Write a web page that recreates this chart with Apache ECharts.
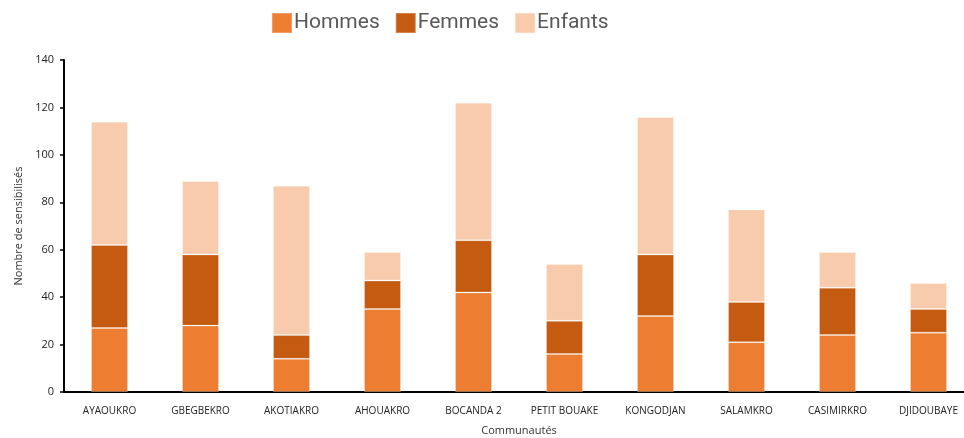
<!DOCTYPE html>
<html>
<head>
<meta charset="utf-8">
<script src="https://cdn.jsdelivr.net/npm/echarts@6/dist/echarts.min.js"></script>
<style>
  html, body { margin: 0; padding: 0; background: #fff; }
  #chart { width: 964px; height: 438px; }
</style>
</head>
<body>
<div id="chart"></div>
<script>
const communautes = ['AYAOUKRO', 'GBEGBEKRO', 'AKOTIAKRO', 'AHOUAKRO', 'BOCANDA 2', 'PETIT BOUAKE', 'KONGODJAN', 'SALAMKRO', 'CASIMIRKRO', 'DJIDOUBAYE'];
const hommes  = [27, 28, 14, 35, 42, 16, 32, 21, 24, 25];
const femmes  = [35, 30, 10, 12, 22, 14, 26, 17, 20, 10];
const enfants = [52, 31, 63, 12, 58, 24, 58, 39, 15, 11];
const yTicks = [0, 20, 40, 60, 80, 100, 120, 140];

const chart = echarts.init(document.getElementById('chart'), null, { renderer: 'canvas' });

// fine liseré clair autour des segments, comme dans Excel
const barStyle = (color) => ({
  color: color,
  borderColor: 'rgba(255,255,255,0.25)',
  borderWidth: 1
});

const option = {
  backgroundColor: '#fff',
  animation: false,
  legend: {
    top: 7,
    left: 266,
    itemWidth: 20,
    itemHeight: 20,
    itemGap: 15,
    icon: 'rect',
    textStyle: { fontFamily: 'Roboto', fontSize: 21, color: '#595959', padding: [0, 0, 0, -3] },
    data: ['Hommes', 'Femmes', 'Enfants']
  },
  grid: { left: 64, top: 60, width: 910, bottom: 46, containLabel: false, outerBoundsMode: 'none' },
  xAxis: {
    type: 'category',
    data: communautes,
    name: 'Communautés',
    nameLocation: 'middle',
    nameGap: 33,
    nameTextStyle: { fontFamily: 'Open Sans', fontSize: 11, color: '#333' },
    axisLine: { lineStyle: { color: '#000', width: 2 } },
    axisTick: { show: false },
    axisLabel: { fontFamily: 'Open Sans', fontSize: 10, color: '#222', margin: 14, interval: 0 }
  },
  yAxis: {
    type: 'value',
    min: yTicks[0],
    max: yTicks[yTicks.length - 1],
    interval: 20,
    name: 'Nombre de sensibilisés',
    nameLocation: 'middle',
    nameGap: 40,
    nameTextStyle: { fontFamily: 'Open Sans', fontSize: 11, color: '#333' },
    axisLine: { show: true, lineStyle: { color: '#000', width: 2 } },
    axisTick: { show: true, length: 4, lineStyle: { color: '#000', width: 1.5 } },
    axisLabel: { fontFamily: 'Open Sans', fontSize: 11, color: '#222', margin: 10 },
    splitLine: { show: false }
  },
  series: [
    { name: 'Hommes', type: 'bar', stack: 'total', barWidth: 37, data: hommes, itemStyle: barStyle('#ED7D31') },
    { name: 'Femmes', type: 'bar', stack: 'total', barWidth: 37, data: femmes, itemStyle: barStyle('#C55A11') },
    { name: 'Enfants', type: 'bar', stack: 'total', barWidth: 37, data: enfants, itemStyle: barStyle('#F8CBAD') }
  ]
};

chart.setOption(option);
window.addEventListener('resize', () => chart.resize());
</script>
</body>
</html>
